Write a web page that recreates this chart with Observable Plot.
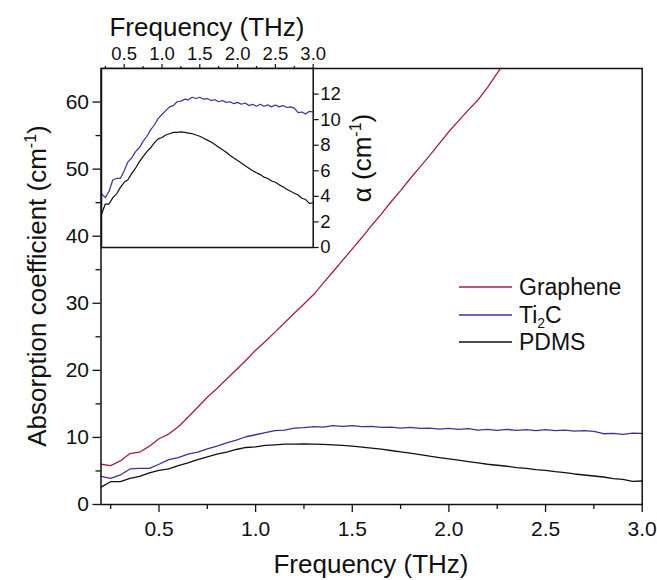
<!DOCTYPE html>
<html><head><meta charset="utf-8">
<script src="https://cdn.jsdelivr.net/npm/d3@7"></script>
<script src="https://cdn.jsdelivr.net/npm/@observablehq/plot@0.6"></script>
<style>
body{margin:0;background:#fff;}
#wrap{position:relative;width:657px;height:580px;font-family:"Liberation Sans",Arial,sans-serif;}
#wrap > svg{position:absolute;left:0;top:0;}
</style></head><body><div id="wrap"></div>
<script>
// Frequency grid (THz)
const freq = [0.20,0.25,0.30,0.35,0.40,0.45,0.50,0.55,0.60,0.65,0.70,0.75,0.80,0.85,0.90,0.95,
  1.00,1.05,1.10,1.15,1.20,1.25,1.30,1.35,1.40,1.45,1.50,1.55,1.60,1.65,1.70,1.75,1.80,1.85,1.90,1.95,
  2.00,2.05,2.10,2.15,2.20,2.25,2.30,2.35,2.40,2.45,2.50,2.55,2.60,2.65,2.70,2.75,2.80,2.85,2.90,2.95,3.00];
// Absorption coefficient (cm^-1)
const graphene = [6.0,5.8,6.5,7.6,7.8,8.7,9.8,10.5,11.6,13.0,14.5,16.0,17.3,18.7,20.1,21.5,
  23.0,24.3,25.7,27.1,28.5,29.9,31.3,33.0,34.7,36.4,38.1,39.8,41.6,43.3,45.1,46.8,48.6,50.3,52.0,53.8,
  55.6,57.2,58.8,60.3,62.2,64.3,66.5,null,null,null,null,null,null,null,null,null,null,null,null,null,null];
const ti2c = [4.2,3.9,4.4,5.3,5.4,5.4,6.0,6.7,7.0,7.5,7.8,8.3,8.7,9.2,9.6,10.1,
  10.4,10.7,11.0,11.1,11.4,11.45,11.6,11.55,11.75,11.65,11.75,11.6,11.65,11.5,11.55,11.4,11.5,11.35,11.4,11.25,
  11.35,11.2,11.3,11.1,11.2,11.05,11.2,11.05,11.15,11.0,11.15,11.0,11.1,10.95,11.0,10.9,10.55,10.6,10.45,10.65,10.6];
const pdms = [2.6,3.4,3.4,3.9,4.2,4.7,5.1,5.3,5.8,6.2,6.7,7.1,7.5,7.8,8.2,8.5,
  8.6,8.8,8.9,9.0,9.0,9.05,9.0,8.95,8.9,8.8,8.7,8.55,8.4,8.25,8.05,7.85,7.65,7.45,7.2,7.0,
  6.8,6.6,6.4,6.2,6.0,5.85,5.7,5.5,5.4,5.2,5.1,4.9,4.75,4.55,4.4,4.25,4.1,3.85,3.75,3.45,3.5];

const seriesNames = ["Graphene", "Ti2C", "PDMS"];
const seriesColors = ["#a31f48", "#3d30a0", "#111111"];

const xMajor = [0.5,1.0,1.5,2.0,2.5,3.0];
const xMinor = [0.25,0.75,1.25,1.75,2.25,2.75];
const yMajor = [0,10,20,30,40,50,60];
const yMinor = [5,15,25,35,45,55];
const insetYMajor = [0,2,4,6,8,10,12];

const rows = freq.map((f,i)=>({f, graphene: graphene[i], ti2c: ti2c[i], pdms: pdms[i]}));

const FONT = "Liberation Sans, Arial, sans-serif";
const wrap = document.getElementById("wrap");

const main = Plot.plot({
  width: 657, height: 580,
  marginLeft: 100.5, marginRight: 15.3, marginTop: 68, marginBottom: 76,
  style: {fontFamily: FONT, fontSize: "21px", color: "#111", background: "transparent"},
  x: {domain: [0.2, 3.0]},
  y: {domain: [0, 65]},
  marks: [
    Plot.line(rows, {x: "f", y: "graphene", stroke: seriesColors[0], strokeWidth: 1.3, clip: true}),
    Plot.line(rows, {x: "f", y: "ti2c", stroke: seriesColors[1], strokeWidth: 1.3}),
    Plot.line(rows, {x: "f", y: "pdms", stroke: seriesColors[2], strokeWidth: 1.3}),
    Plot.axisX({ticks: xMajor, tickSize: 8, tickPadding: 9, tickFormat: d3.format(".1f"), label: null, strokeWidth: 1.3}),
    Plot.axisX({ticks: xMinor, tickSize: 5, tickFormat: () => "", label: null, strokeWidth: 1.3}),
    Plot.axisY({ticks: yMajor, tickSize: 8, tickPadding: 4, label: null, strokeWidth: 1.3}),
    Plot.axisY({ticks: yMinor, tickSize: 5, tickFormat: () => "", label: null, strokeWidth: 1.3}),
    Plot.frame({stroke: "#111", strokeWidth: 1.5})
  ]
});
wrap.appendChild(main);

const ms = d3.select(main);
ms.append("text").attr("x", 371).attr("y", 573).attr("text-anchor", "middle")
  .attr("font-family", FONT).attr("font-size", 26).attr("fill", "#111").text("Frequency (THz)");
const yt = ms.append("text").attr("transform", "translate(46,286) rotate(-90)").attr("text-anchor", "middle")
  .attr("font-family", FONT).attr("font-size", 26).attr("fill", "#111");
yt.append("tspan").text("Absorption coefficient (cm");
yt.append("tspan").attr("font-size", 16).attr("dy", -10).text("-1");
yt.append("tspan").attr("dy", 10).text(")");

// Inset
const inset = Plot.plot({
  width: 400, height: 260,
  marginLeft: 101, marginRight: 87.3, marginTop: 68, marginBottom: 13,
  style: {fontFamily: FONT, fontSize: "18.5px", color: "#111", background: "transparent"},
  x: {domain: [0.2, 3.0]},
  y: {domain: [0, 14]},
  marks: [
    Plot.frame({fill: "white"}),
    Plot.line(rows, {x: "f", y: "ti2c", stroke: seriesColors[1], strokeWidth: 1.2}),
    Plot.line(rows, {x: "f", y: "pdms", stroke: seriesColors[2], strokeWidth: 1.2}),
    Plot.axisX({anchor: "top", ticks: xMajor, tickSize: 5, tickPadding: 4, tickFormat: d3.format(".1f"), label: null, strokeWidth: 1.2}),
    Plot.axisX({anchor: "top", ticks: xMinor, tickSize: 3, tickFormat: () => "", label: null, strokeWidth: 1.2}),
    Plot.axisY({anchor: "right", ticks: insetYMajor, tickSize: 5, tickPadding: 2, label: null, strokeWidth: 1.2}),
    Plot.frame({stroke: "#111", strokeWidth: 1.5})
  ]
});
wrap.appendChild(inset);
const is = d3.select(inset);
is.append("text").attr("x", 207).attr("y", 36).attr("text-anchor", "middle")
  .attr("font-family", FONT).attr("font-size", 26).attr("fill", "#111").text("Frequency (THz)");
const at = is.append("text").attr("transform", "translate(371,158) rotate(-90)").attr("text-anchor", "middle")
  .attr("font-family", FONT).attr("font-size", 26).attr("fill", "#111");
at.append("tspan").text("α (cm");
at.append("tspan").attr("font-size", 16).attr("dy", -10).text("-1");
at.append("tspan").attr("dy", 10).text(")");

// Legend
const leg = d3.select(wrap).append("svg").attr("width", 657).attr("height", 580)
  .style("pointer-events", "none");
const legY = [287, 315, 342];
seriesNames.forEach((name, i) => {
  const g = leg.append("g");
  g.append("line").attr("x1", 459).attr("x2", 512).attr("y1", legY[i]).attr("y2", legY[i])
    .attr("stroke", seriesColors[i]).attr("stroke-width", 1.3);
  const t = g.append("text").attr("x", 519).attr("y", legY[i]).attr("dy", "0.36em")
    .attr("font-family", FONT).attr("font-size", 23).attr("fill", "#111");
  if (name === "Ti2C") {
    t.append("tspan").text("Ti");
    t.append("tspan").attr("font-size", 14).attr("dy", 5).text("2");
    t.append("tspan").attr("dy", -5).text("C");
  } else {
    t.text(name);
  }
});
</script>
</body></html>
